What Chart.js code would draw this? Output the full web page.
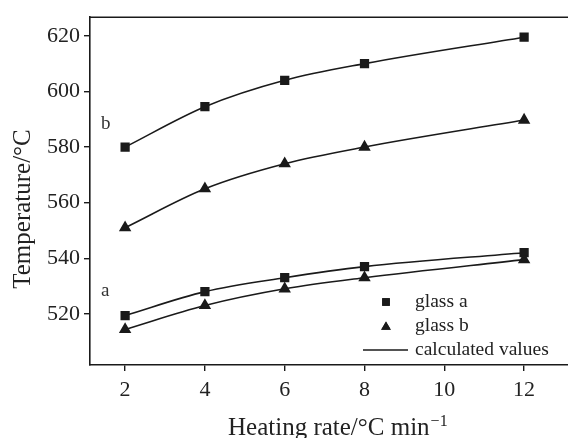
<!DOCTYPE html>
<html>
<head>
<meta charset="utf-8">
<script src="https://cdn.jsdelivr.net/npm/chart.js@4.4.1/dist/chart.umd.min.js"></script>
<style>
  html,body{margin:0;padding:0;background:#fff;}
  #wrap{width:568px;height:438px;position:relative;}
</style>
</head>
<body>
<div id="wrap"><canvas id="c"></canvas></div>
<script>
// ── data ──
const rates=[2,4,6,8,12];
const upperSquares=[580,594.5,604,610,619.5];   // group b, glass a
const upperTriangles=[551,565,574,580,589.7];   // group b, glass b
const lowerSquares=[519.4,528,533,537,542];     // group a, glass a
const lowerTriangles=[514.4,523,529,533,539.5]; // group a, glass b
const xTicks=[2,4,6,8,10,12];
const yTicks=[520,540,560,580,600,620];
const legendItems=['glass a','glass b','calculated values'];
const xTitle='Heating rate/°C min', xTitleSup='−1';
const yTitle='Temperature/°C';

const INK='#1a1a1a';
const SERIF="'Liberation Serif','Times New Roman',serif";

function ds(vals,style,label){
  return {label,data:rates.map((x,i)=>({x,y:vals[i]})),
    borderColor:INK,backgroundColor:INK,borderWidth:1.6,
    pointStyle:style,pointRadius:style==='rect'?5.4:5.6,pointHoverRadius:5.6,
    cubicInterpolationMode:'monotone',fill:false,clip:false};
}

// axis titles, legend, group letters, top frame line
const extras={
  id:'extras',
  afterDraw(chart){
    const {ctx,chartArea:a}=chart;
    ctx.save();
    ctx.strokeStyle=INK;ctx.lineWidth=1.6;
    ctx.beginPath();ctx.moveTo(a.left,a.top);ctx.lineTo(chart.width,a.top);ctx.stroke();

    // axis titles
    ctx.fillStyle='#222';ctx.textBaseline='alphabetic';
    ctx.font=`25px ${SERIF}`;ctx.textAlign='left';
    ctx.fillText(xTitle,228,435);
    const w=ctx.measureText(xTitle).width;
    ctx.font=`16px ${SERIF}`;
    ctx.fillText(xTitleSup,228+w+1,426);
    ctx.translate(30,209);ctx.rotate(-Math.PI/2);
    ctx.font=`25px ${SERIF}`;ctx.textAlign='center';
    ctx.fillText(yTitle,0,0);
    ctx.setTransform(1,0,0,1,0,0);

    ctx.fillStyle='#333';ctx.font=`19px ${SERIF}`;ctx.textBaseline='middle';ctx.textAlign='left';
    ctx.fillText('b',101,124);
    ctx.fillText('a',101,291);
    // legend
    const mx=386,tx=415,rows=[302,326,350];
    ctx.fillStyle=INK;
    Chart.helpers.drawPoint(ctx,{pointStyle:'rect',radius:5.4,borderWidth:0,rotation:0},mx,rows[0]);
    ctx.fill();
    Chart.helpers.drawPoint(ctx,{pointStyle:'triangle',radius:5.6,borderWidth:0,rotation:0},mx,rows[1]+1);
    ctx.fill();
    ctx.beginPath();ctx.moveTo(363,rows[2]);ctx.lineTo(408,rows[2]);ctx.stroke();
    ctx.fillStyle='#222';ctx.font=`19.5px ${SERIF}`;
    legendItems.forEach((t,i)=>ctx.fillText(t,tx,rows[i]));
    ctx.restore();
  }
};

new Chart(document.getElementById('c'),{
  type:'line',
  data:{datasets:[
    ds(upperSquares,'rect','glass a (b)'),
    ds(upperTriangles,'triangle','glass b (b)'),
    ds(lowerSquares,'rect','glass a (a)'),
    ds(lowerTriangles,'triangle','glass b (a)')
  ]},
  options:{
    responsive:true,maintainAspectRatio:false,animation:false,
    layout:{autoPadding:false,padding:{top:16,left:0,right:0,bottom:0}},
    plugins:{legend:{display:false},tooltip:{enabled:false}},
    scales:{
      x:{type:'linear',position:'bottom',min:1.12,max:13.1,
        afterBuildTicks:s=>{s.ticks=xTicks.map(v=>({value:v}));},
        afterFit:s=>{s.height=73;s.paddingLeft=0;s.paddingRight=0;},
        grid:{drawOnChartArea:false,drawTicks:true,tickLength:6,color:INK,lineWidth:1.4},
        border:{display:true,color:INK,width:1.6},
        ticks:{padding:6,color:'#222',font:{family:SERIF,size:22},maxRotation:0}
      },
      y:{type:'linear',position:'left',min:501.6,max:626.7,
        afterBuildTicks:s=>{s.ticks=yTicks.map(v=>({value:v}));},
        afterFit:s=>{s.width=90;},
        grid:{drawOnChartArea:false,drawTicks:true,tickLength:6,color:INK,lineWidth:1.4},
        border:{display:true,color:INK,width:1.6},
        ticks:{padding:4,color:'#222',font:{family:SERIF,size:22}}
      }
    }
  },
  plugins:[extras]
});
</script>
</body>
</html>
